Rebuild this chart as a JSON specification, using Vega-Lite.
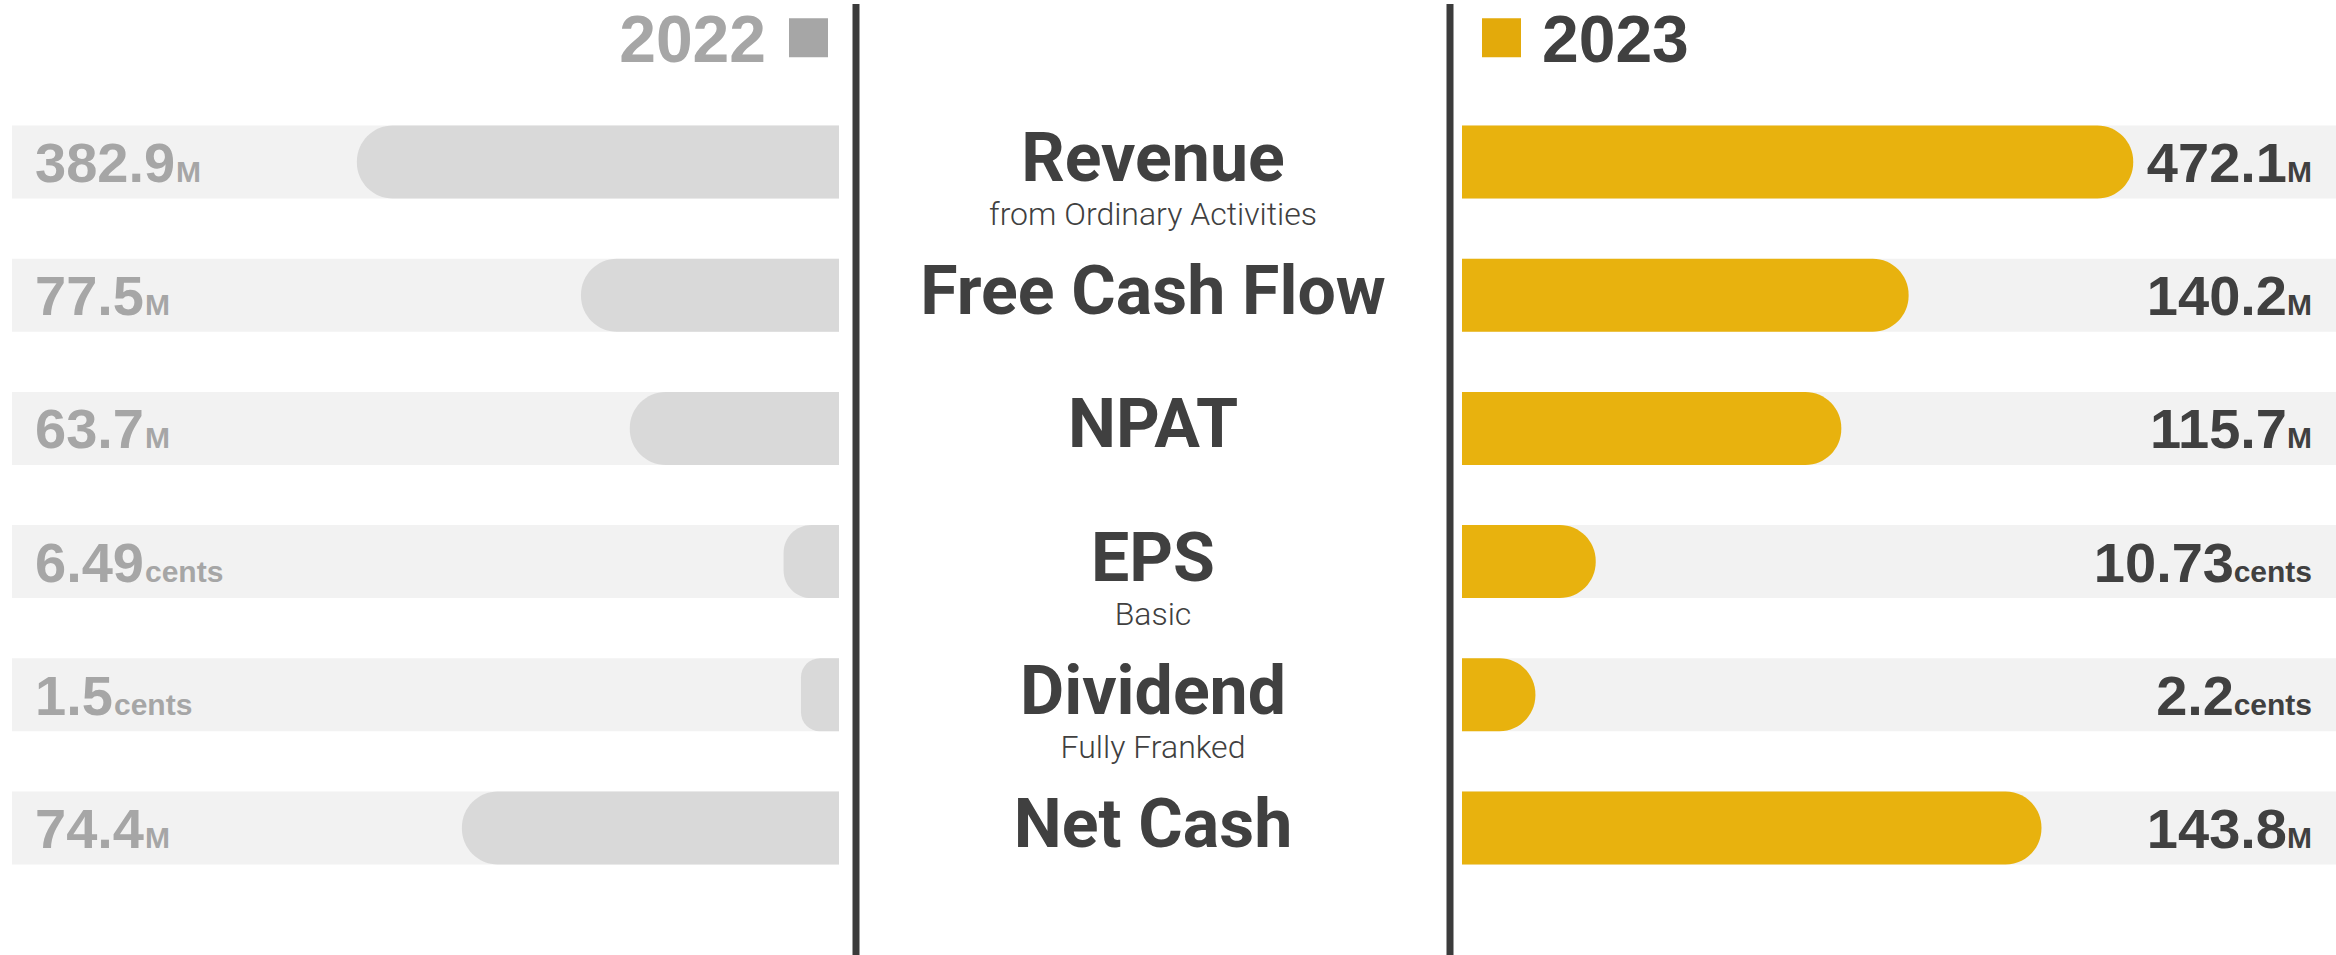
{
  "$schema": "https://vega.github.io/schema/vega-lite/v6.json",
  "background": "white",
  "padding": 0,
  "bounds": "flush",
  "spacing": 0,
  "config": {"view": {"stroke": null}},
  "datasets": {
    "kpi": [
      {"metric": "Revenue", "sub": "from Ordinary Activities", "year": "2022", "value": 382.9, "unit": "M", "index": 58.3},
      {"metric": "Revenue", "sub": "from Ordinary Activities", "year": "2023", "value": 472.1, "unit": "M", "index": 76.8},
      {"metric": "Free Cash Flow", "sub": "", "year": "2022", "value": 77.5, "unit": "M", "index": 31.2},
      {"metric": "Free Cash Flow", "sub": "", "year": "2023", "value": 140.2, "unit": "M", "index": 51.1},
      {"metric": "NPAT", "sub": "", "year": "2022", "value": 63.7, "unit": "M", "index": 25.3},
      {"metric": "NPAT", "sub": "", "year": "2023", "value": 115.7, "unit": "M", "index": 43.4},
      {"metric": "EPS", "sub": "Basic", "year": "2022", "value": 6.49, "unit": "cents", "index": 6.7},
      {"metric": "EPS", "sub": "Basic", "year": "2023", "value": 10.73, "unit": "cents", "index": 15.3},
      {"metric": "Dividend", "sub": "Fully Franked", "year": "2022", "value": 1.5, "unit": "cents", "index": 4.6},
      {"metric": "Dividend", "sub": "Fully Franked", "year": "2023", "value": 2.2, "unit": "cents", "index": 8.4},
      {"metric": "Net Cash", "sub": "", "year": "2022", "value": 74.4, "unit": "M", "index": 45.6},
      {"metric": "Net Cash", "sub": "", "year": "2023", "value": 143.8, "unit": "M", "index": 66.3}
    ],
    "years": [{"year": "2022"}, {"year": "2023"}]
  },
  "resolve": {"scale": {"x": "independent", "y": "independent"}},
  "hconcat": [
    {
      "width": 856,
      "height": 955,
      "layer": [
        {
          "data": {"name": "kpi"},
          "transform": [{"filter": "datum.year == '2022'"}],
          "mark": {"type": "bar", "color": "#f2f2f2"},
          "encoding": {
            "y": {"field": "metric", "type": "nominal", "axis": null, "scale": {"type": "band", "domain": ["hdr", "Revenue", "Free Cash Flow", "NPAT", "EPS", "Dividend", "Net Cash"], "range": [-11.7, 860.5], "paddingInner": 0.452, "paddingOuter": 0}},
            "x": {"datum": 0, "type": "quantitative", "axis": null, "scale": {"domain": [0, 100], "range": [839, 12]}},
            "x2": {"datum": 100}
          }
        },
        {
          "data": {"name": "kpi"},
          "transform": [{"filter": "datum.year == '2022'"}],
          "mark": {"type": "bar", "color": "#d9d9d9", "cornerRadiusTopLeft": 36, "cornerRadiusBottomLeft": 36},
          "encoding": {
            "y": {"field": "metric", "type": "nominal", "axis": null},
            "x": {"field": "index", "type": "quantitative", "axis": null},
            "x2": {"datum": 0}
          }
        },
        {
          "data": {"name": "kpi"},
          "transform": [{"filter": "datum.year == '2022'"}],
          "mark": {"type": "text", "align": "left", "baseline": "alphabetic", "dx": 23, "dy": 20, "font": "Liberation Sans", "fontWeight": "bold", "fontSize": 56, "color": "#a6a6a6"},
          "encoding": {
            "y": {"field": "metric", "type": "nominal", "axis": null},
            "x": {"datum": 100, "type": "quantitative"},
            "text": {"field": "value", "type": "nominal"}
          }
        },
        {
          "data": {"name": "kpi"},
          "transform": [{"filter": "datum.year == '2022' && length(toString(datum.value)) == 5"}],
          "mark": {"type": "text", "align": "left", "baseline": "alphabetic", "dx": 164, "dy": 20, "font": "Liberation Sans", "fontWeight": "bold", "fontSize": 30, "color": "#a6a6a6"},
          "encoding": {
            "y": {"field": "metric", "type": "nominal", "axis": null},
            "x": {"datum": 100, "type": "quantitative"},
            "text": {"field": "unit", "type": "nominal"}
          }
        },
        {
          "data": {"name": "kpi"},
          "transform": [{"filter": "datum.year == '2022' && length(toString(datum.value)) == 4"}],
          "mark": {"type": "text", "align": "left", "baseline": "alphabetic", "dx": 133, "dy": 20, "font": "Liberation Sans", "fontWeight": "bold", "fontSize": 30, "color": "#a6a6a6"},
          "encoding": {
            "y": {"field": "metric", "type": "nominal", "axis": null},
            "x": {"datum": 100, "type": "quantitative"},
            "text": {"field": "unit", "type": "nominal"}
          }
        },
        {
          "data": {"name": "kpi"},
          "transform": [{"filter": "datum.year == '2022' && length(toString(datum.value)) == 3"}],
          "mark": {"type": "text", "align": "left", "baseline": "alphabetic", "dx": 102, "dy": 20, "font": "Liberation Sans", "fontWeight": "bold", "fontSize": 30, "color": "#a6a6a6"},
          "encoding": {
            "y": {"field": "metric", "type": "nominal", "axis": null},
            "x": {"datum": 100, "type": "quantitative"},
            "text": {"field": "unit", "type": "nominal"}
          }
        },
        {
          "data": {"name": "years"},
          "transform": [{"filter": "datum.year == '2022'"}],
          "mark": {"type": "text", "align": "right", "baseline": "alphabetic", "dx": -73, "dy": 33, "font": "Liberation Sans", "fontWeight": "bold", "fontSize": 66, "color": "#a6a6a6"},
          "encoding": {
            "y": {"datum": "hdr", "type": "nominal"},
            "x": {"datum": 0, "type": "quantitative"},
            "text": {"field": "year", "type": "nominal"}
          }
        },
        {
          "data": {"name": "years"},
          "transform": [{"filter": "datum.year == '2022'"}],
          "mark": {"type": "point", "shape": "square", "size": 1521, "filled": true, "opacity": 1, "color": "#a6a6a6", "xOffset": -30.5, "yOffset": 9},
          "encoding": {
            "y": {"datum": "hdr", "type": "nominal"},
            "x": {"datum": 0, "type": "quantitative"}
          }
        }
      ]
    },
    {
      "width": 594,
      "height": 955,
      "layer": [
        {
          "data": {"values": [{"side": "left"}]},
          "mark": {"type": "rule", "strokeWidth": 7, "color": "#3b3b3b"},
          "encoding": {
            "x": {"datum": 0, "type": "quantitative", "axis": null, "scale": {"domain": [0, 1], "range": [0, 594]}}
          }
        },
        {
          "data": {"values": [{"side": "right"}]},
          "mark": {"type": "rule", "strokeWidth": 7, "color": "#3b3b3b"},
          "encoding": {
            "x": {"datum": 1, "type": "quantitative"}
          }
        },
        {
          "data": {"name": "kpi"},
          "transform": [{"filter": "datum.year == '2023'"}],
          "mark": {"type": "text", "align": "center", "baseline": "alphabetic", "dy": 19, "font": "Roboto", "fontWeight": "bold", "fontSize": 68, "color": "#404040"},
          "encoding": {
            "y": {"field": "metric", "type": "nominal", "axis": null, "scale": {"type": "band", "domain": ["hdr", "Revenue", "Free Cash Flow", "NPAT", "EPS", "Dividend", "Net Cash"], "range": [-11.7, 860.5], "paddingInner": 0.452, "paddingOuter": 0}},
            "x": {"datum": 0.5, "type": "quantitative"},
            "text": {"field": "metric", "type": "nominal"}
          }
        },
        {
          "data": {"name": "kpi"},
          "transform": [{"filter": "datum.year == '2023' && datum.sub != ''"}],
          "mark": {"type": "text", "align": "center", "baseline": "alphabetic", "dy": 63, "font": "Roboto", "fontWeight": 300, "fontSize": 32, "color": "#404040"},
          "encoding": {
            "y": {"field": "metric", "type": "nominal", "axis": null},
            "x": {"datum": 0.5, "type": "quantitative"},
            "text": {"field": "sub", "type": "nominal"}
          }
        }
      ]
    },
    {
      "width": 886,
      "height": 955,
      "layer": [
        {
          "data": {"name": "kpi"},
          "transform": [{"filter": "datum.year == '2023'"}],
          "mark": {"type": "bar", "color": "#f2f2f2"},
          "encoding": {
            "y": {"field": "metric", "type": "nominal", "axis": null, "scale": {"type": "band", "domain": ["hdr", "Revenue", "Free Cash Flow", "NPAT", "EPS", "Dividend", "Net Cash"], "range": [-11.7, 860.5], "paddingInner": 0.452, "paddingOuter": 0}},
            "x": {"datum": 0, "type": "quantitative", "axis": null, "scale": {"domain": [0, 100], "range": [12, 886]}},
            "x2": {"datum": 100}
          }
        },
        {
          "data": {"name": "kpi"},
          "transform": [{"filter": "datum.year == '2023'"}],
          "mark": {"type": "bar", "color": "#e8b20e", "cornerRadiusTopRight": 36, "cornerRadiusBottomRight": 36},
          "encoding": {
            "y": {"field": "metric", "type": "nominal", "axis": null},
            "x": {"field": "index", "type": "quantitative", "axis": null},
            "x2": {"datum": 0}
          }
        },
        {
          "data": {"name": "kpi"},
          "transform": [{"filter": "datum.year == '2023' && datum.unit == 'M'"}],
          "mark": {"type": "text", "align": "right", "baseline": "alphabetic", "dx": -49, "dy": 20, "font": "Liberation Sans", "fontWeight": "bold", "fontSize": 56, "color": "#404040"},
          "encoding": {
            "y": {"field": "metric", "type": "nominal", "axis": null},
            "x": {"datum": 100, "type": "quantitative"},
            "text": {"field": "value", "type": "nominal"}
          }
        },
        {
          "data": {"name": "kpi"},
          "transform": [{"filter": "datum.year == '2023' && datum.unit == 'cents'"}],
          "mark": {"type": "text", "align": "right", "baseline": "alphabetic", "dx": -102, "dy": 20, "font": "Liberation Sans", "fontWeight": "bold", "fontSize": 56, "color": "#404040"},
          "encoding": {
            "y": {"field": "metric", "type": "nominal", "axis": null},
            "x": {"datum": 100, "type": "quantitative"},
            "text": {"field": "value", "type": "nominal"}
          }
        },
        {
          "data": {"name": "kpi"},
          "transform": [{"filter": "datum.year == '2023'"}],
          "mark": {"type": "text", "align": "right", "baseline": "alphabetic", "dx": -24, "dy": 20, "font": "Liberation Sans", "fontWeight": "bold", "fontSize": 30, "color": "#404040"},
          "encoding": {
            "y": {"field": "metric", "type": "nominal", "axis": null},
            "x": {"datum": 100, "type": "quantitative"},
            "text": {"field": "unit", "type": "nominal"}
          }
        },
        {
          "data": {"name": "years"},
          "transform": [{"filter": "datum.year == '2023'"}],
          "mark": {"type": "text", "align": "left", "baseline": "alphabetic", "dx": 80, "dy": 33, "font": "Liberation Sans", "fontWeight": "bold", "fontSize": 66, "color": "#404040"},
          "encoding": {
            "y": {"datum": "hdr", "type": "nominal"},
            "x": {"datum": 0, "type": "quantitative"},
            "text": {"field": "year", "type": "nominal"}
          }
        },
        {
          "data": {"name": "years"},
          "transform": [{"filter": "datum.year == '2023'"}],
          "mark": {"type": "point", "shape": "square", "size": 1521, "filled": true, "opacity": 1, "color": "#e3aa0b", "xOffset": 39.5, "yOffset": 9},
          "encoding": {
            "y": {"datum": "hdr", "type": "nominal"},
            "x": {"datum": 0, "type": "quantitative"}
          }
        }
      ]
    }
  ]
}
